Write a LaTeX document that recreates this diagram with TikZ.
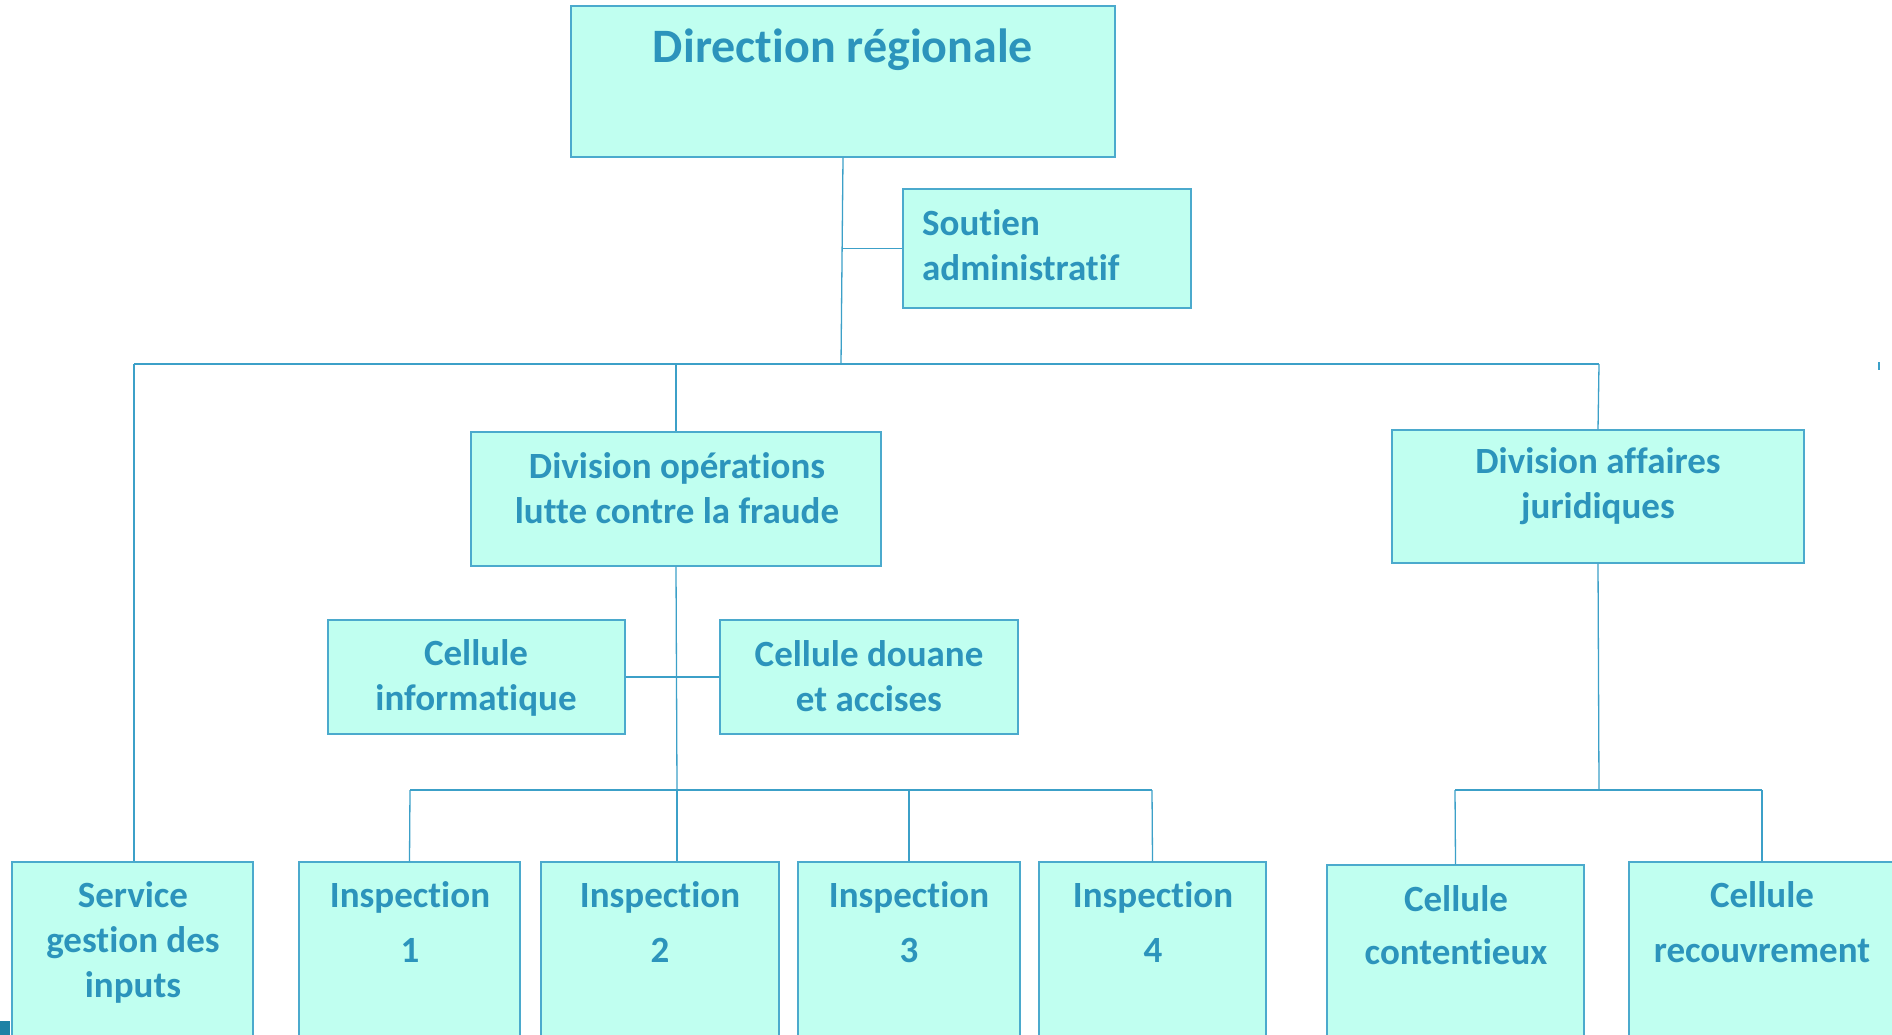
\documentclass[tikz,border=0pt]{standalone}
\usepackage{fontspec}
\setmainfont[Ligatures=NoCommon]{Carlito}
\definecolor{boxfill}{RGB}{192,255,240}
\definecolor{boxline}{RGB}{75,170,205}
\definecolor{txt}{RGB}{44,148,188}
\definecolor{lnk}{RGB}{60,160,200}
\definecolor{corner}{RGB}{30,130,165}
\tikzset{
  box/.style={draw=boxline, line width=1.3pt, fill=boxfill, rectangle, inner sep=0pt, minimum width=#1},
  lbl/.style={text=txt, font=\fontsize{37}{45}\selectfont\bfseries, align=center, inner sep=0pt},
  wire/.style={draw=lnk, line width=1.3pt}
}
\begin{document}
\begin{tikzpicture}[x=1pt,y=-1pt]
\clip (0,0) rectangle (1892,1035);
\fill[white] (0,0) rectangle (1892,1035);
% boxes
\node[box=544, minimum height=151] (dr) at (843,81.5) {};
\node[box=288, minimum height=119] (sa) at (1047,248.5) {};
\node[box=410, minimum height=134] (dop) at (676,499) {};
\node[box=412, minimum height=133] (daf) at (1598,496.5) {};
\node[box=297, minimum height=114] (ci) at (476.5,677) {};
\node[box=298, minimum height=114] (cd) at (869,677) {};
\node[box=241, minimum height=200] (sg) at (132.5,962) {};
\node[box=221, minimum height=200] (i1) at (409.5,962) {};
\node[box=238, minimum height=200] (i2) at (660,962) {};
\node[box=222, minimum height=200] (i3) at (909,962) {};
\node[box=227, minimum height=200] (i4) at (1152.5,962) {};
\node[box=257, minimum height=200] (cc) at (1455.5,965) {};
\node[box=266, minimum height=200] (cr) at (1762,962) {};
% connector points
\coordinate (top) at (841,364);
\coordinate (barL) at (134,364);
\coordinate (barR) at (1599,364);
\coordinate (opsJ) at (677,790);
\coordinate (opsL) at (410,790);
\coordinate (opsR) at (1152,790);
\coordinate (jurJ) at (1599,790);
\coordinate (jurL) at (1455,790);
\coordinate (jurR) at (1762,790);
% connectors
\draw[wire] (dr.south) -- (top);
\draw[wire] (dr.south |- sa.west) -- (sa.west);
\draw[wire] (barL) -- (barR);
\draw[wire] (barL) -- (sg.north -| barL);
\draw[wire] (dop.north |- top) -- (dop.north);
\draw[wire] (barR) -- (daf.north);
\draw[wire] (dop.south) -- (opsJ);
\draw[wire] (ci.east) -- (cd.west);
\draw[wire] (opsL) -- (opsR);
\draw[wire] (opsL) -- (i1.north);
\draw[wire] (opsJ) -- (opsJ |- i2.north);
\draw[wire] (opsJ -| i3.north) -- (i3.north);
\draw[wire] (opsR) -- (i4.north);
\draw[wire] (daf.south) -- (jurJ);
\draw[wire] (jurL) -- (jurR);
\draw[wire] (jurL) -- (cc.north);
\draw[wire] (jurR) -- (cr.north);
% texts
\node[lbl, font=\fontsize{48}{57}\selectfont\bfseries] (tdr) at (843,50) {Direction régionale};
\node[lbl, align=left, anchor=west] (tsa) at (922,245) {Soutien\\administratif};
\node[lbl] (tdop) at (677,488) {Division opérations\\lutte contre la fraude};
\node[lbl] (tdaf) at (1598,486) {Division affaires\\juridiques};
\node[lbl] (tci) at (476,678) {Cellule\\informatique};
\node[lbl] (tcd) at (869,676) {Cellule douane\\et accises};
\node[lbl] (tsg) at (133,942) {Service\\gestion des\\inputs};
\node[lbl, font=\fontsize{37}{55}\selectfont\bfseries] (ti1) at (410,922) {Inspection\\1};
\node[lbl, font=\fontsize{37}{55}\selectfont\bfseries] (ti2) at (660,922) {Inspection\\2};
\node[lbl, font=\fontsize{37}{55}\selectfont\bfseries] (ti3) at (909,922) {Inspection\\3};
\node[lbl, font=\fontsize{37}{55}\selectfont\bfseries] (ti4) at (1153,922) {Inspection\\4};
\node[lbl, font=\fontsize{37}{53}\selectfont\bfseries] (tcc) at (1456,925) {Cellule\\contentieux};
\node[lbl, font=\fontsize{37}{55}\selectfont\bfseries] (tcr) at (1762,922) {Cellule\\recouvrement};
% small artifacts
\fill[corner] (0,1021) rectangle (10,1035);
\draw[wire] (1879,362) -- (1879,370);
\end{tikzpicture}
\end{document}
